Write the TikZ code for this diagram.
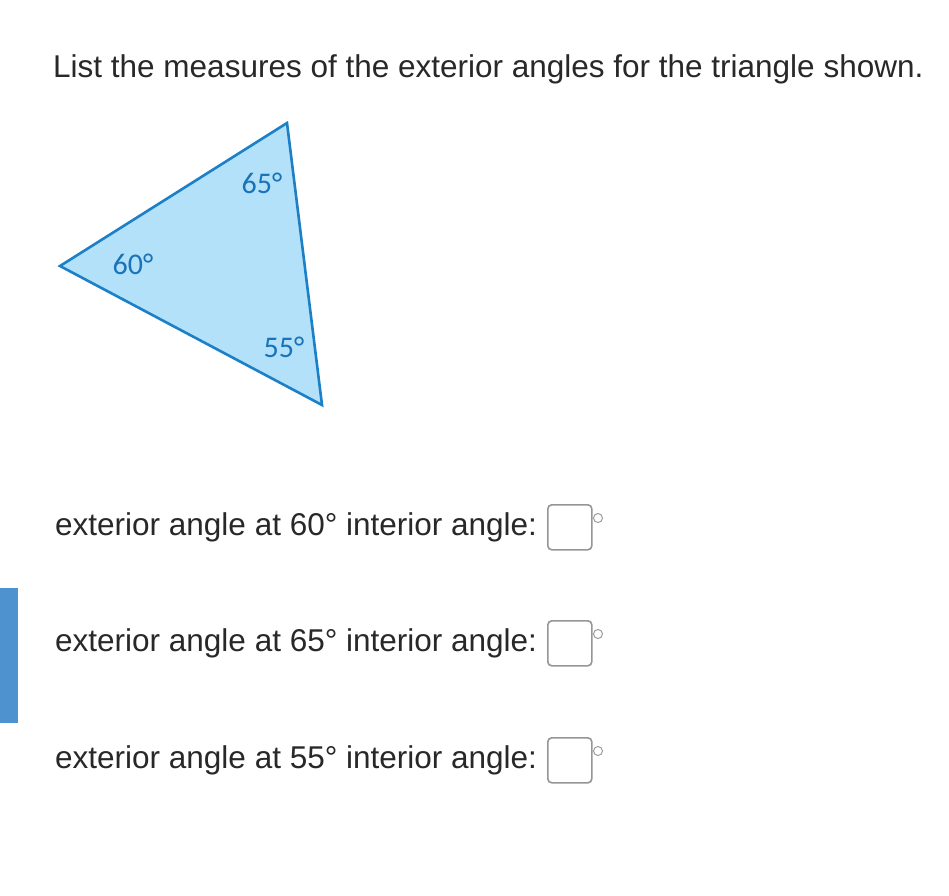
\documentclass[tikz,border=0pt]{standalone}
\usepackage{fontspec}
\setmainfont{Liberation Sans}
\newfontfamily\carl{Carlito}
\definecolor{txt}{RGB}{40,40,40}
\definecolor{trifill}{RGB}{178,225,249}
\definecolor{tristroke}{RGB}{28,128,200}
\definecolor{lbl}{RGB}{25,115,185}
\definecolor{boxgray}{RGB}{150,150,150}
\definecolor{barblue}{RGB}{78,146,208}
\tikzset{
  qtext/.style={anchor=base west, inner sep=0pt, text=txt, font=\fontsize{31.5}{36}\selectfont},
  anglbl/.style={inner sep=0pt, text=lbl, font=\carl\fontsize{30}{32}\selectfont},
  ansbox/.style={draw=boxgray, line width=1.6pt, rounded corners=4pt, minimum width=44pt, minimum height=45pt, inner sep=0pt, anchor=north west},
  degc/.style={draw=boxgray, line width=0.9pt, circle, minimum size=9pt, inner sep=0pt}
}
\begin{document}
\begin{tikzpicture}[x=1pt,y=-1pt]
\useasboundingbox (0,0) rectangle (949,895);
\fill[white] (0,0) rectangle (949,895);
\node[qtext] (title) at (53,77) {List the measures of the exterior angles for the triangle shown.};
% triangle
\coordinate (T) at (287,123);
\coordinate (L) at (60,266);
\coordinate (B) at (322,405);
\filldraw[fill=trifill, draw=tristroke, line width=2.6pt, line join=miter] (T) -- (L) -- (B) -- cycle;
\node[anglbl] (a65) at (262,183) {65°};
\node[anglbl] (a60) at (133,264) {60°};
\node[anglbl] (a55) at (284,347) {55°};
% rows
\node[qtext] (r1) at (55,535) {exterior angle at 60° interior angle:};
\node[ansbox] (b1) at (547,504) {};
\node[degc] (d1) at (598,518) {};
\node[qtext] (r2) at (55,651) {exterior angle at 65° interior angle:};
\node[ansbox] (b2) at (547,620) {};
\node[degc] (d2) at (598,634) {};
\node[qtext] (r3) at (55,768) {exterior angle at 55° interior angle:};
\node[ansbox] (b3) at (547,737) {};
\node[degc] (d3) at (598,751) {};
% side bar
\fill[barblue] (0,588) rectangle (18,723);
\end{tikzpicture}
\end{document}
